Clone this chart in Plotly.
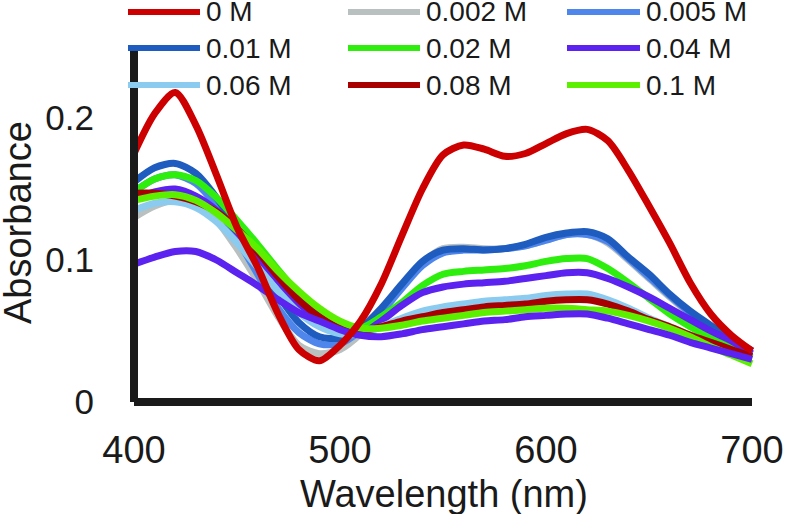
import plotly.graph_objects as go

# ---------------- data ----------------
wavelength = [400, 410, 420, 430, 440, 450, 460, 470, 480, 490, 500,
              510, 520, 530, 540, 550, 560, 570, 580, 590, 600,
              610, 620, 630, 640, 650, 660, 670, 680, 690, 700]

abs_0M = [0.175, 0.203, 0.218, 0.195, 0.160, 0.123, 0.095, 0.062, 0.037, 0.029, 0.040,
          0.057, 0.083, 0.117, 0.150, 0.174, 0.181, 0.178, 0.173, 0.175, 0.182,
          0.189, 0.192, 0.184, 0.163, 0.138, 0.112, 0.084, 0.062, 0.047, 0.036]
abs_0002M = [0.130, 0.138, 0.142, 0.140, 0.128, 0.108, 0.085, 0.060, 0.040, 0.034, 0.037,
             0.048, 0.064, 0.081, 0.098, 0.108, 0.109, 0.108, 0.108, 0.110, 0.114,
             0.118, 0.118, 0.112, 0.100, 0.087, 0.074, 0.062, 0.052, 0.043, 0.035]
abs_0005M = [0.148, 0.157, 0.160, 0.154, 0.138, 0.115, 0.090, 0.066, 0.049, 0.041, 0.041,
             0.050, 0.063, 0.080, 0.096, 0.105, 0.107, 0.107, 0.108, 0.110, 0.114,
             0.118, 0.118, 0.113, 0.101, 0.088, 0.075, 0.063, 0.053, 0.044, 0.036]
abs_001M = [0.155, 0.165, 0.168, 0.161, 0.144, 0.122, 0.098, 0.075, 0.056, 0.046, 0.045,
            0.052, 0.066, 0.083, 0.099, 0.107, 0.108, 0.107, 0.108, 0.111, 0.116,
            0.119, 0.120, 0.115, 0.102, 0.090, 0.076, 0.064, 0.054, 0.045, 0.036]
abs_002M = [0.148, 0.157, 0.160, 0.156, 0.144, 0.128, 0.111, 0.093, 0.076, 0.062, 0.054,
            0.052, 0.060, 0.070, 0.082, 0.090, 0.092, 0.093, 0.094, 0.096, 0.099,
            0.101, 0.101, 0.094, 0.084, 0.073, 0.062, 0.053, 0.045, 0.038, 0.031]
abs_004M = [0.143, 0.148, 0.150, 0.145, 0.135, 0.120, 0.103, 0.085, 0.068, 0.056, 0.050,
            0.048, 0.057, 0.068, 0.077, 0.081, 0.083, 0.084, 0.085, 0.087, 0.089,
            0.091, 0.091, 0.087, 0.081, 0.074, 0.066, 0.058, 0.050, 0.043, 0.034]
abs_006M = [0.135, 0.140, 0.141, 0.137, 0.127, 0.112, 0.095, 0.078, 0.063, 0.053, 0.048,
            0.048, 0.053, 0.059, 0.064, 0.067, 0.069, 0.071, 0.072, 0.073, 0.075,
            0.076, 0.076, 0.072, 0.066, 0.059, 0.053, 0.047, 0.041, 0.036, 0.031]
abs_008M = [0.147, 0.147, 0.145, 0.141, 0.134, 0.122, 0.106, 0.088, 0.072, 0.060, 0.052,
            0.050, 0.053, 0.057, 0.060, 0.063, 0.065, 0.067, 0.068, 0.069, 0.071,
            0.072, 0.072, 0.069, 0.064, 0.058, 0.053, 0.047, 0.042, 0.037, 0.032]
abs_01M = [0.142, 0.145, 0.146, 0.142, 0.133, 0.121, 0.108, 0.092, 0.078, 0.066, 0.057,
           0.052, 0.052, 0.054, 0.057, 0.059, 0.061, 0.063, 0.064, 0.065, 0.066,
           0.066, 0.065, 0.064, 0.061, 0.057, 0.052, 0.046, 0.039, 0.033, 0.027]
abs_extra = [0.097, 0.102, 0.106, 0.106, 0.100, 0.091, 0.082, 0.072, 0.063, 0.057, 0.051,
             0.047, 0.046, 0.048, 0.051, 0.053, 0.055, 0.057, 0.058, 0.060, 0.061,
             0.062, 0.062, 0.059, 0.055, 0.051, 0.047, 0.042, 0.038, 0.034, 0.030]

series_names = ["0 M", "0.002 M", "0.005 M", "0.01 M", "0.02 M", "0.04 M",
                "0.06 M", "0.08 M", "0.1 M"]
series_values = [abs_0M, abs_0002M, abs_0005M, abs_001M, abs_002M, abs_004M,
                 abs_006M, abs_008M, abs_01M]
series_colors = ["#cc0000", "#b8c0c0", "#4f86ec", "#1f5cbf", "#2eee0e", "#5b22f0",
                 "#8ccbf0", "#a80000", "#5cf000"]
extra_color = "#5b22f0"

x_ticks = [400, 500, 600, 700]
y_ticks = [0, 0.1, 0.2]
y_tick_labels = ["0", "0.1", "0.2"]

# ---------------- layout geometry (pixels) ----------------
W, H = 787, 514
L, R, T, B = 126, 760, 44, 410
PX_PER_NM = 2.06
PX_PER_UNIT = 1420.0
x_range = [400 - (134 - L) / PX_PER_NM, 700 + (R - 752) / PX_PER_NM]
y_range = [-(B - 402) / PX_PER_UNIT, (402 - T) / PX_PER_UNIT]


def pxx(xp):
    return (xp - L) / (R - L)


def pxy(yp):
    return (B - yp) / (B - T)


FONT = "Liberation Sans, Arial, sans-serif"
LW = 7

fig = go.Figure()

# drawing order: background curves first, 0 M on top
order = [1, 2, 3, 4, 5, 6, 7, 8]
for i in order:
    fig.add_trace(go.Scatter(x=wavelength, y=series_values[i], mode="lines",
                             name=series_names[i],
                             line=dict(color=series_colors[i], width=LW, shape="spline", smoothing=0.8),
                             showlegend=False))
fig.add_trace(go.Scatter(x=wavelength, y=abs_extra, mode="lines", name="",
                         line=dict(color=extra_color, width=LW, shape="spline", smoothing=0.8),
                         showlegend=False))
fig.add_trace(go.Scatter(x=wavelength, y=series_values[0], mode="lines",
                         name=series_names[0],
                         line=dict(color=series_colors[0], width=LW, shape="spline", smoothing=0.8),
                         showlegend=False))

shapes = []
# axis lines
shapes.append(dict(type="line", xref="x", yref="y", x0=400, x1=400, y0=0, y1=0.25,
                   line=dict(color="#1a1a1a", width=8), layer="above"))
shapes.append(dict(type="line", xref="x", yref="y", x0=400, x1=700, y0=0, y1=0,
                   line=dict(color="#1a1a1a", width=8), layer="above"))

annotations = []
# custom legend: 3 columns x 3 rows
col_line_x = [(128, 200), (348, 420), (567, 640)]
col_text_x = [205, 425, 645]
row_y = [12, 48, 85]
for k, name in enumerate(series_names):
    r, c = divmod(k, 3)
    x0, x1 = col_line_x[c]
    shapes.append(dict(type="line", xref="paper", yref="paper",
                       x0=pxx(x0), x1=pxx(x1), y0=pxy(row_y[r]), y1=pxy(row_y[r]),
                       line=dict(color=series_colors[k], width=6), layer="above"))
    annotations.append(dict(xref="paper", yref="paper", x=pxx(col_text_x[c]), y=pxy(row_y[r]),
                            text=name, showarrow=False, xanchor="left", yanchor="middle",
                            borderpad=0,
                            font=dict(family=FONT, size=28, color="#1a1a1a")))

# axis titles
annotations.append(dict(xref="paper", yref="paper", x=pxx(444), y=pxy(494),
                        text="Wavelength (nm)", showarrow=False, xanchor="center", yanchor="middle",
                        borderpad=0,
                        font=dict(family=FONT, size=38, color="#1a1a1a")))
annotations.append(dict(xref="paper", yref="paper", x=pxx(18), y=pxy(223),
                        text="Absorbance", showarrow=False, textangle=-90,
                        xanchor="center", yanchor="middle", borderpad=0,
                        font=dict(family=FONT, size=38, color="#1a1a1a")))

fig.update_layout(
    width=W, height=H,
    margin=dict(l=L, r=W - R, t=T, b=H - B, autoexpand=False),
    paper_bgcolor="white", plot_bgcolor="white",
    showlegend=False,
    shapes=shapes, annotations=annotations,
    xaxis=dict(range=x_range, tickvals=x_ticks, showgrid=False, zeroline=False,
               showline=False, ticks="outside", ticklen=6, tickcolor="rgba(0,0,0,0)",
               tickfont=dict(family=FONT, size=38, color="#1a1a1a")),
    yaxis=dict(range=y_range, tickvals=y_ticks, ticktext=y_tick_labels, showgrid=False,
               zeroline=False, showline=False, ticks="outside", ticklen=24,
               tickcolor="rgba(0,0,0,0)",
               tickfont=dict(family=FONT, size=35, color="#1a1a1a")),
)

fig.write_html("out.html", config={"displayModeBar": False},
               post_script="document.body.style.margin='0';document.body.style.overflow='hidden';")
